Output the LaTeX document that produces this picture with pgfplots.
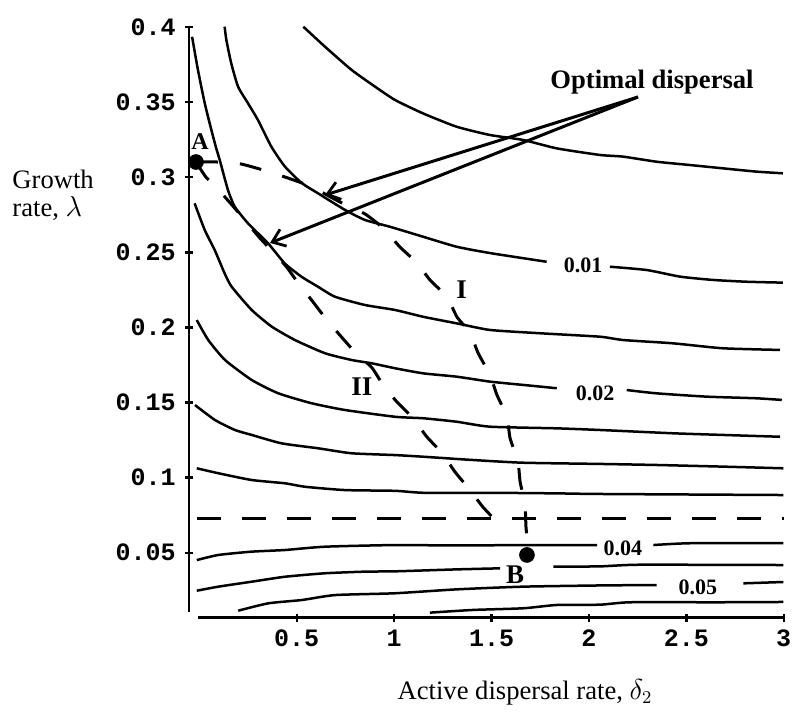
\documentclass[border=0pt]{standalone}
\usepackage{fontspec}
\setmainfont{Liberation Serif}
\setmonofont{Liberation Mono}
\usepackage{pgfplots}
\pgfplotsset{compat=1.18}
\usetikzlibrary{arrows.meta}
\tikzset{
  cont/.style={black, line width=1.25pt, smooth, tension=0.35},
  dsh/.style={black, line width=1.5pt, dash pattern=on 11pt off 11pt},
  clab/.style={font=\bfseries\fontsize{11}{11}\selectfont, inner sep=0pt},
  blab/.style={font=\bfseries\fontsize{13.5}{13.5}\selectfont, inner sep=0pt},
  ann/.style={black, line width=1.5pt, -{Straight Barb[length=6pt,width=9pt,line width=1.4pt]}},
}
\begin{document}
\begin{tikzpicture}
\useasboundingbox (-94.5pt,-47.75pt) rectangle (301.5pt,308.75pt);
\begin{axis}[
  at={(0pt,0pt)}, anchor=south west,
  x=97.4pt, y=751pt,
  xmin=-0.0529, xmax=3, ymin=0.00686, ymax=0.4,
  axis x line=bottom, axis y line=left,
  axis line style={-, line width=1.4pt, black},
  x axis line style={shorten <=4.65pt},
  y axis line style={shorten <=2.9pt},
  xtick={0.5,1,1.5,2,2.5,3},
  xticklabels={0.5,1,1.5,2,2.5,3},
  ytick={0.05,0.1,0.15,0.2,0.25,0.3,0.35,0.4},
  yticklabels={0.05,0.1,0.15,0.2,0.25,0.3,0.35,0.4},
  tick align=center,
  major tick length=4pt,
  tick style={line width=1.2pt, black},
  ticklabel style={font=\ttfamily\bfseries\fontsize{12.5}{12.5}\selectfont, inner sep=0pt},
  xticklabel style={anchor=north, yshift=-4pt},
  yticklabel style={anchor=east, xshift=-4.5pt},
  /pgf/number format/assume math mode=true,
  clip=false,
]
% contour 0.005
\addplot[cont] coordinates {(0.534,0.4002)(0.645,0.3869)(0.782,0.3714)(0.902,0.3603)(1.005,0.3514)(1.148,0.3425)(1.321,0.3336)(1.492,0.3281)(1.662,0.3248)(1.835,0.3192)(2.057,0.3148)(2.175,0.3137)(2.348,0.3103)(2.519,0.3081)(2.688,0.3059)(2.861,0.3037)(2.996,0.3026)};
% contour 0.01
\addplot[cont] coordinates {(0.130,0.4002)(0.139,0.3913)(0.164,0.3758)(0.199,0.3603)(0.250,0.3492)(0.301,0.3381)(0.370,0.3203)(0.440,0.3070)(0.526,0.2961)(0.609,0.2893)(0.748,0.2782)(0.851,0.2715)(0.979,0.2670)(1.148,0.2604)(1.321,0.2537)(1.492,0.2495)(1.783,0.2437)};
\addplot[cont] coordinates {(2.108,0.2404)(2.297,0.2382)(2.468,0.2338)(2.637,0.2316)(2.810,0.2304)(2.996,0.2298)};
% contour 0.015
\addplot[cont] coordinates {(-0.037,0.3935)(-0.007,0.3714)(0.028,0.3492)(0.062,0.3314)(0.087,0.3192)(0.105,0.3114)(0.147,0.2915)(0.182,0.2804)(0.250,0.2693)(0.353,0.2560)(0.438,0.2427)(0.524,0.2338)(0.609,0.2271)(0.697,0.2204)(0.851,0.2149)(1.005,0.2116)(1.148,0.2071)(1.321,0.2027)(1.492,0.1983)(1.749,0.1961)(2.057,0.1938)(2.175,0.1916)(2.432,0.1894)(2.688,0.1861)(2.981,0.1850)};
% contour 0.02
\addplot[cont] coordinates {(-0.024,0.2826)(0.028,0.2648)(0.079,0.2515)(0.130,0.2360)(0.166,0.2271)(0.269,0.2116)(0.372,0.2005)(0.491,0.1916)(0.645,0.1828)(0.782,0.1783)(0.885,0.1761)(1.005,0.1728)(1.150,0.1694)(1.321,0.1672)(1.492,0.1639)(1.663,0.1617)(1.835,0.1595)};
\addplot[cont] coordinates {(2.194,0.1583)(2.348,0.1561)(2.605,0.1539)(2.861,0.1528)(2.990,0.1517)};
% contour 0.025
\addplot[cont] coordinates {(-0.013,0.2049)(0.046,0.1916)(0.132,0.1783)(0.269,0.1650)(0.406,0.1561)(0.577,0.1495)(0.748,0.1450)(1.005,0.1405)(1.150,0.1395)(1.321,0.1372)(1.492,0.1339)(1.835,0.1328)(2.057,0.1317)(2.433,0.1295)(2.688,0.1284)(2.981,0.1272)};
% contour 0.03
\addplot[cont] coordinates {(-0.022,0.1483)(0.081,0.1383)(0.183,0.1317)(0.269,0.1284)(0.423,0.1228)(0.611,0.1195)(0.782,0.1162)(1.005,0.1150)(1.150,0.1139)(1.407,0.1117)(1.663,0.1099)(2.057,0.1091)(2.348,0.1084)(2.690,0.1073)(2.998,0.1062)};
% contour 0.035
\addplot[cont] coordinates {(-0.013,0.1062)(0.098,0.1029)(0.269,0.0984)(0.440,0.0962)(0.543,0.0939)(0.748,0.0917)(1.005,0.0912)(1.150,0.0899)(1.492,0.0899)(1.835,0.0895)(2.057,0.0891)(2.998,0.0884)};
% horizontal dashed line
\addplot[black, line width=1.5pt, dash pattern=on 12pt off 10.5pt] coordinates {(-0.013,0.0729)(3.0,0.0729)};
% contour 0.04
\addplot[cont] coordinates {(-0.013,0.0451)(0.098,0.0485)(0.269,0.0507)(0.440,0.0518)(0.645,0.0540)(1.005,0.0551)(1.321,0.0548)(1.663,0.0551)(2.042,0.0551)};
\addplot[cont] coordinates {(2.331,0.0551)(2.519,0.0563)(2.998,0.0563)};
% contour 0.045
\addplot[cont] coordinates {(-0.013,0.0247)(0.098,0.0274)(0.269,0.0307)(0.440,0.0340)(0.645,0.0363)(0.851,0.0374)(1.005,0.0376)(1.321,0.0389)(1.544,0.0396)};
\addplot[cont] coordinates {(1.817,0.0407)(2.057,0.0409)(2.262,0.0420)(2.998,0.0418)};
% contour 0.05
\addplot[cont] coordinates {(0.200,0.0114)(0.354,0.0163)(0.526,0.0185)(0.697,0.0218)(1.005,0.0230)(1.321,0.0256)(1.663,0.0274)(2.057,0.0282)(2.348,0.0285)};
\addplot[cont] coordinates {(2.793,0.0296)(2.998,0.0305)};
% contour 0.055
\addplot[cont] coordinates {(1.184,0.0101)(1.407,0.0119)(1.663,0.0130)(1.835,0.0152)(2.057,0.0154)(2.211,0.0170)(2.656,0.0170)(2.998,0.0172)};
% optimal path I
\addplot[dsh, smooth, tension=0.3] coordinates {(-0.017,0.3101)(0.096,0.3101)(0.214,0.3088)(0.327,0.3048)(0.440,0.3001)(0.568,0.2941)(0.722,0.2835)(0.851,0.2755)(0.943,0.2662)(1.030,0.2535)(1.118,0.2429)(1.184,0.2316)(1.272,0.2202)(1.323,0.2069)(1.390,0.1963)(1.431,0.1830)(1.492,0.1683)(1.528,0.1550)(1.580,0.1403)(1.595,0.1264)(1.636,0.1104)(1.647,0.0971)(1.672,0.0818)(1.677,0.0671)(1.687,0.0538)(1.682,0.0485)};
% optimal path II
\addplot[dsh, smooth, tension=0.3] coordinates {(-0.017,0.3101)(0.034,0.3001)(0.122,0.2882)(0.199,0.2768)(0.311,0.2595)(0.440,0.2415)(0.496,0.2316)(0.568,0.2196)(0.635,0.2083)(0.712,0.1963)(0.789,0.1850)(0.887,0.1730)(0.943,0.1617)(1.015,0.1503)(1.092,0.1403)(1.169,0.1270)(1.246,0.1164)(1.313,0.1037)(1.390,0.0917)(1.456,0.0804)(1.533,0.0698)};
% points A and B
\addplot[only marks, mark=*, mark size=3.7pt, black] coordinates {(-0.017,0.3101)(1.682,0.0485)};
% labels
\node[clab] at (axis cs:1.970,0.2416) {0.01};
\node[clab] at (axis cs:2.032,0.1563) {0.02};
\node[clab] at (axis cs:2.175,0.0531) {0.04};
\node[clab] at (axis cs:2.560,0.0271) {0.05};
\node[font=\bfseries\fontsize{12}{12}\selectfont, inner sep=0pt] at (axis cs:0.004,0.3236) {A};
\node[blab] at (axis cs:1.621,0.0352) {B};
\node[blab] at (axis cs:1.347,0.2249) {I};
\node[blab] at (axis cs:0.834,0.1605) {II};
\node[font=\bfseries\fontsize{13.3}{13.3}\selectfont, inner sep=0pt] at (axis cs:2.324,0.3634) {Optimal dispersal};
\draw[ann] (axis cs:2.252,0.3534) -- (axis cs:0.645,0.2881);
\draw[ann] (axis cs:2.252,0.3534) -- (axis cs:0.363,0.2562);
\node[anchor=west, align=left, inner sep=0pt, font=\fontsize{13.3}{14}\selectfont] at (axis cs:-0.961,0.2882) {Growth\\rate, $\lambda$};
\node[inner sep=0pt, font=\fontsize{13.3}{15}\selectfont] at (axis cs:1.672,-0.0427) {Active dispersal rate, $\delta_2$};
\end{axis}
\end{tikzpicture}
\end{document}
